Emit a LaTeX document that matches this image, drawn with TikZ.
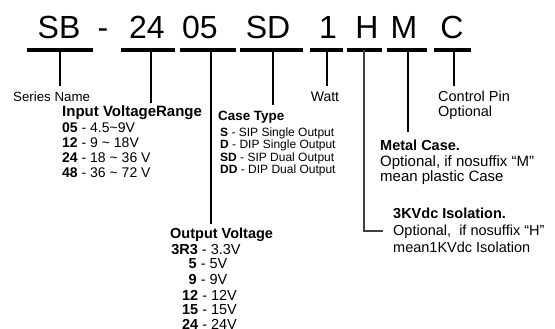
\documentclass[tikz,border=0pt]{standalone}
\usepackage{fontspec}
\setmainfont{Liberation Sans}
\begin{document}
\begin{tikzpicture}[x=1pt,y=-1pt]
\useasboundingbox (0,0) rectangle (555,329);
\tikzset{
  big/.style={font=\fontsize{32}{32}\selectfont, anchor=base, inner sep=0},
  bar/.style={line width=4pt},
  stem/.style={line width=2.6pt},
  thinstem/.style={line width=1.6pt, draw=black!75},
  lbl/.style={font=\fontsize{14}{16}\selectfont, inner sep=0, anchor=base west},
  lblc/.style={font=\fontsize{14.5}{16}\selectfont, inner sep=0, anchor=base},
  head/.style={font=\fontsize{14.5}{16}\selectfont\bfseries, inner sep=0, anchor=base west},
  small/.style={font=\fontsize{12}{13}\selectfont, inner sep=0, anchor=base west}
}
% code letters
\node[big] (sb) at (59,39) {SB};
\node[big] (dash) at (103,39) {-};
\node[big] (v24) at (147,39) {24};
\node[big] (v05) at (200,39) {05};
\node[big] (sd) at (268,39) {SD};
\node[big] (w1) at (328,39) {1};
\node[big] (h) at (367,39) {H};
\node[big] (m) at (404,39) {M};
\node[big] (c) at (452,39) {C};

% bars
\coordinate (sbL) at (27,50);  \coordinate (sbR) at (93,50);
\coordinate (aL) at (121,50);  \coordinate (aR) at (175,50);
\coordinate (bL) at (180,50);  \coordinate (bR) at (236,50);
\coordinate (cL) at (240,50);  \coordinate (cR) at (303,50);
\coordinate (dL) at (310,50);  \coordinate (dR) at (343,50);
\coordinate (eL) at (347,50);  \coordinate (eR) at (382,50);
\coordinate (fL) at (387,50);  \coordinate (fR) at (427,50);
\coordinate (gL) at (434,50);  \coordinate (gR) at (471,50);
\draw[bar] (sbL) -- (sbR);
\draw[bar] (aL) -- (aR);
\draw[bar] (bL) -- (bR);
\draw[bar] (cL) -- (cR);
\draw[bar] (dL) -- (dR);
\draw[bar] (eL) -- (eR);
\draw[bar] (fL) -- (fR);
\draw[bar] (gL) -- (gR);

% stems
\coordinate (s1a) at (60,50);  \coordinate (s1b) at (60,86);
\coordinate (s2a) at (151,50); \coordinate (s2b) at (151,103);
\coordinate (s3a) at (211,50); \coordinate (s3b) at (211,224);
\coordinate (s4a) at (273,50); \coordinate (s4b) at (273,105);
\coordinate (s5a) at (327,50); \coordinate (s5b) at (327,86);
\coordinate (s6a) at (364,50); \coordinate (s6b) at (364,231); \coordinate (s6c) at (383,231);
\coordinate (s7a) at (408,50); \coordinate (s7b) at (408,132);
\coordinate (s8a) at (454,50); \coordinate (s8b) at (454,86);
\draw[stem] (s1a) -- (s1b);
\draw[stem] (s2a) -- (s2b);
\draw[stem] (s3a) -- (s3b);
\draw[stem] (s4a) -- (s4b);
\draw[stem] (s5a) -- (s5b);
\draw[thinstem] (s6a) -- (s6b) -- (s6c);
\draw[stem] (s7a) -- (s7b);
\draw[stem] (s8a) -- (s8b);

% Series name
\node[lbl, font=\fontsize{13.3}{15}\selectfont] (sn) at (13,102) {Series Name};

% Input voltage
\node[head, font=\fontsize{15}{16}\selectfont\bfseries] (ivh) at (62,117) {Input VoltageRange};
\node[lbl] (iv1) at (62,132) {\textbf{05} - 4.5\textasciitilde9V};
\node[lbl] (iv2) at (62,147) {\textbf{12} - 9 \textasciitilde\ 18V};
\node[lbl] (iv3) at (62,162.5) {\textbf{24} - 18 \textasciitilde\ 36 V};
\node[lbl] (iv4) at (62,178) {\textbf{48} - 36 \textasciitilde\ 72 V};

% Case type
\node[head, font=\fontsize{13.4}{15}\selectfont\bfseries] (cth) at (218,121) {Case Type};
\node[small] (ct1) at (220,136.3) {\textbf{S} - SIP Single Output};
\node[small] (ct2) at (220,148.3) {\textbf{D} - DIP Single Output};
\node[small] (ct3) at (220,161.3) {\textbf{SD} - SIP Dual Output};
\node[small] (ct4) at (220,173.3) {\textbf{DD} - DIP Dual Output};

% Watt
\node[lblc, font=\fontsize{14}{16}\selectfont] (watt) at (325,102) {Watt};

% Control pin
\node[lbl, font=\fontsize{14.5}{16}\selectfont] (cp1) at (438,102) {Control Pin};
\node[lbl, font=\fontsize{14.5}{16}\selectfont] (cp2) at (438,117) {Optional};

% Metal case
\node[head] (mc) at (380,150) {Metal Case.};
\node[lbl, font=\fontsize{15}{16}\selectfont] (mc1) at (380,167) {Optional, if nosuffix “M”};
\node[lbl, font=\fontsize{15}{16}\selectfont] (mc2) at (380,182) {mean plastic Case};

% Isolation
\node[head] (iso) at (393,218) {3KVdc Isolation.};
\node[lbl, font=\fontsize{14.5}{16}\selectfont] (iso1) at (393,235) {Optional,\ \ if nosuffix “H”};
\node[lbl, font=\fontsize{14.5}{16}\selectfont] (iso2) at (393,252) {mean1KVdc Isolation};

% Output voltage
\node[head] (ovh) at (170,238) {Output Voltage};
\node[lblc] (ov1) at (206,254) {\textbf{3R3} - 3.3V};
\node[lblc] (ov2) at (208,268) {\textbf{5} - 5V};
\node[lblc] (ov3) at (208,284) {\textbf{9} - 9V};
\node[lblc] (ov4) at (209.5,300) {\textbf{12} - 12V};
\node[lblc] (ov5) at (209.5,314) {\textbf{15} - 15V};
\node[lblc] (ov6) at (209.5,329) {\textbf{24} - 24V};
\end{tikzpicture}
\end{document}
